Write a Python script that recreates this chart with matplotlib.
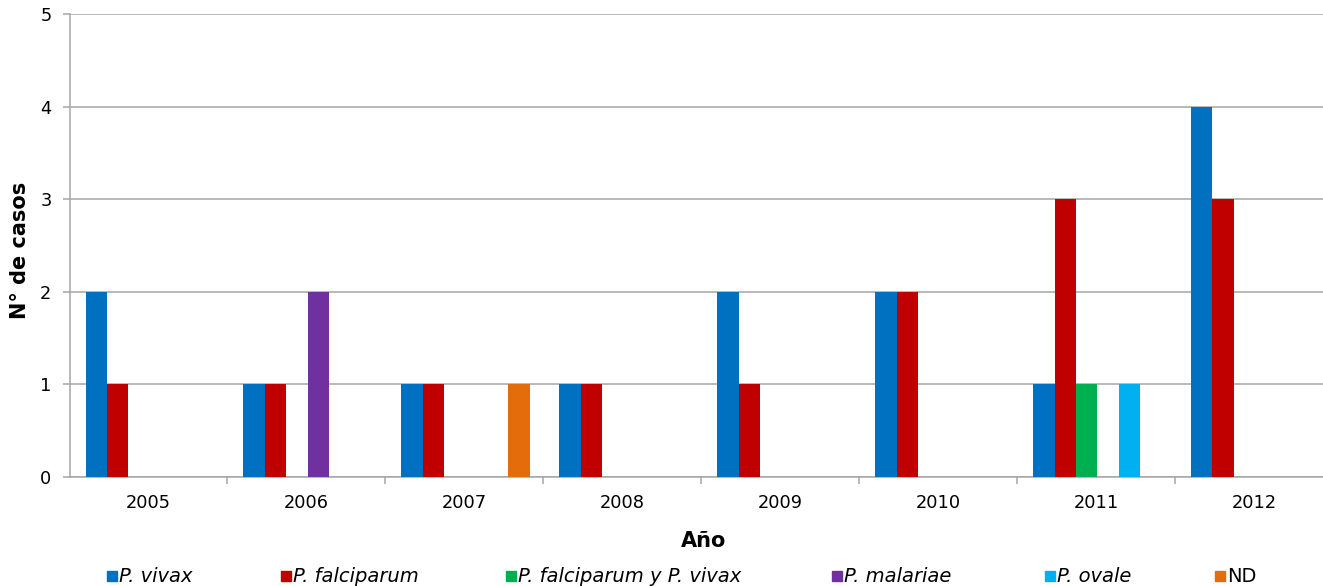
#!/usr/bin/env python

import matplotlib

matplotlib.use("Agg")
import matplotlib.pyplot as plt
from matplotlib.patches import Rectangle
import numpy as np

years = ["2005", "2006", "2007", "2008", "2009", "2010", "2011", "2012"]
series_names = [
    "P. vivax",
    "P. falciparum",
    "P. falciparum y P. vivax",
    "P. malariae",
    "P. ovale",
    "ND",
]
vivax = [2, 1, 1, 1, 2, 2, 1, 4]
falciparum = [1, 1, 1, 1, 1, 2, 3, 3]
falciparum_vivax = [0, 0, 0, 0, 0, 0, 1, 0]
malariae = [0, 2, 0, 0, 0, 0, 0, 0]
ovale = [0, 0, 0, 0, 0, 0, 1, 0]
nd = [0, 0, 1, 0, 0, 0, 0, 0]

colors = ["#0070C0", "#C00000", "#00B050", "#7030A0", "#00B0F0", "#E46C0A"]
grid_color = "#A6A6A6"

W, H = 1323, 586


def main():
    plt.rcParams.update({"font.family": ["DejaVu Sans"], "font.size": 12.8})

    fig = plt.figure(figsize=(W / 100, H / 100), dpi=100)
    # plot area runs a little past the right edge of the image
    left, right, top, bottom = 69.5, 1333, 14, 477
    ax = fig.add_axes(
        [left / W, 1 - bottom / H, (right - left) / W, (bottom - top) / H]
    )

    data = [vivax, falciparum, falciparum_vivax, malariae, ovale, nd]
    x = np.arange(len(years))
    width = 21.4 / ((right - left) / len(years))
    for i, values in enumerate(data):
        ax.bar(
            x + (i - 2.5) * width + 0.008,
            values,
            width=width,
            color=colors[i],
            linewidth=0,
            zorder=3,
        )

    ax.set_xlim(-0.5, len(years) - 0.5)
    ax.set_ylim(0, 5)
    ax.set_yticks(range(6))
    ax.yaxis.grid(True, color=grid_color, linewidth=1.1, zorder=0)
    ax.tick_params(axis="y", length=5, width=1.1, color=grid_color, pad=8)

    # year labels centred, tick marks on category boundaries
    ax.set_xticks(x)
    ax.set_xticklabels(years)
    ax.tick_params(axis="x", which="major", length=0, pad=12)
    ax.set_xticks(np.arange(len(years)) + 0.5, minor=True)
    ax.tick_params(axis="x", which="minor", length=5, width=1.1, color=grid_color)

    for side in ["top", "right"]:
        ax.spines[side].set_visible(False)
    for side in ["left", "bottom"]:
        ax.spines[side].set_color(grid_color)
        ax.spines[side].set_linewidth(1.1)

    ax.set_ylabel("N° de casos", fontsize=15, fontweight="bold")
    ax.yaxis.set_label_coords(-0.031, 0.49)
    ax.set_xlabel("Año", fontsize=15, fontweight="bold")
    ax.xaxis.set_label_coords(0.502, -0.117)

    # legend along the bottom
    marker_x = [107, 281, 506, 832, 1045, 1215]
    y_mid = 1 - 576 / H
    for name, color, px in zip(series_names, colors, marker_x):
        fig.patches.append(
            Rectangle(
                (px / W, y_mid - 5 / H),
                10 / W,
                10 / H,
                transform=fig.transFigure,
                color=color,
            )
        )
        style = "normal" if name == "ND" else "italic"
        fig.text(
            (px + 12) / W,
            y_mid,
            name,
            fontsize=14,
            style=style,
            va="center",
            ha="left",
        )

    plt.savefig("out.png", dpi=100)


if __name__ == "__main__":
    main()
